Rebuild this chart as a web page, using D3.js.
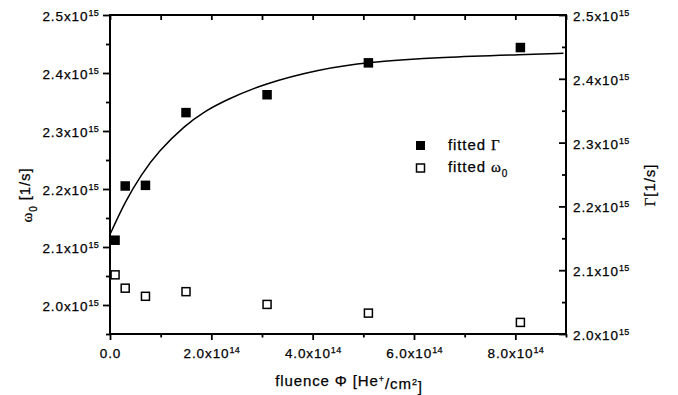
<!DOCTYPE html>
<html>
<head>
<meta charset="utf-8">
<script src="https://cdn.jsdelivr.net/npm/d3@7"></script>
<style>
  html, body { margin: 0; padding: 0; background: #fff; }
  svg { display: block; font-family: "Liberation Sans", Arial, sans-serif; }
  text { stroke: #000; stroke-width: 0.25px; }
</style>
</head>
<body>
<svg id="chart" width="678" height="395"></svg>
<script>
// ---- data (fluence in units of 1e14 He+/cm^2, frequencies in units of 1e15 1/s) ----
const fluence = [0.1, 0.3, 0.7, 1.5, 3.1, 5.1, 8.1];
const gammaFit = [2.147, 2.232, 2.233, 2.347, 2.375, 2.425, 2.449];   // fitted Γ (right axis)
const omegaFit = [2.052, 2.029, 2.015, 2.023, 2.001, 1.986, 1.970];   // fitted ω0 (left axis)
const curveFluence = [0, 0.3, 0.62, 0.95, 1.48, 1.87, 2.27, 3.02, 4.14, 5.06, 6.57, 8.21, 8.95];
const curveGamma   = [2.156, 2.208, 2.250, 2.286, 2.327, 2.349, 2.366, 2.392, 2.415, 2.426, 2.434, 2.438, 2.440];

const xMajor = [0, 2, 4, 6, 8];
const xMajorMant = ["0.0", "2.0x10", "4.0x10", "6.0x10", "8.0x10"];
const xMajorExp = ["", "14", "14", "14", "14"];
const xMinor = [1, 3, 5, 7, 9];
const xTop = [0, 1, 2, 3, 4, 5, 6, 7, 8, 9];

const yLeftMajor = [2.0, 2.1, 2.2, 2.3, 2.4, 2.5];
const yLeftMinor = [1.95, 2.05, 2.15, 2.25, 2.35, 2.45];
const yRightMajor = [2.0, 2.1, 2.2, 2.3, 2.4, 2.5];
const yRightMinor = [2.05, 2.15, 2.25, 2.35, 2.45];
const yMant = ["2.0x10", "2.1x10", "2.2x10", "2.3x10", "2.4x10", "2.5x10"];
const yExp = "15";

// ---- layout ----
const L = 110, R = 566, T = 15, B = 334;
const svg = d3.select("#chart");

const x = d3.scaleLinear().domain([0, 9]).range([L, R]);
const yL = d3.scaleLinear().domain([1.95, 2.5]).range([B, T]);
const yR = d3.scaleLinear().domain([2.0, 2.5]).range([B, T]);

const tickFont = 13.5, tickLS = 0.9;

function supLabels(sel, mant, exp) {
  sel.selectAll("text").each(function(d, i) {
    const t = d3.select(this);
    t.text(null)
     .attr("font-size", tickFont)
     .attr("letter-spacing", tickLS)
     .attr("fill", "#000");
    t.append("tspan").text(mant[i]);
    const e = Array.isArray(exp) ? exp[i] : exp;
    if (e) t.append("tspan").attr("dy", "-0.55em").attr("font-size", 9).attr("letter-spacing", 0.3).text(e);
  });
}

function styleAxis(g) {
  g.select(".domain").remove();
  g.selectAll("line").attr("stroke", "#000").attr("stroke-width", 1.8);
}

// bottom axis
const gB = svg.append("g").attr("transform", `translate(0,${B})`)
  .call(d3.axisBottom(x).tickValues(xMajor).tickSize(6).tickPadding(8).tickFormat((d, i) => xMajorMant[i]));
styleAxis(gB); supLabels(gB, xMajorMant, xMajorExp);
const gBm = svg.append("g").attr("transform", `translate(0,${B})`)
  .call(d3.axisBottom(x).tickValues(xMinor).tickSize(3.5).tickFormat(""));
styleAxis(gBm);

// top axis (inward ticks)
const gT = svg.append("g").attr("transform", `translate(0,${T})`)
  .call(d3.axisTop(x).tickValues(xTop).tickSize(-5).tickFormat(""));
styleAxis(gT);

// left axis
const gL = svg.append("g").attr("transform", `translate(${L},0)`)
  .call(d3.axisLeft(yL).tickValues(yLeftMajor).tickSize(7).tickPadding(4).tickFormat((d, i) => yMant[i]));
styleAxis(gL); supLabels(gL, yMant, yExp);
gL.selectAll("text").attr("dy", "0.4em");
const gLm = svg.append("g").attr("transform", `translate(${L},0)`)
  .call(d3.axisLeft(yL).tickValues(yLeftMinor).tickSize(4).tickFormat(""));
styleAxis(gLm);

// right axis (inward ticks)
const gR = svg.append("g").attr("transform", `translate(${R},0)`)
  .call(d3.axisRight(yR).tickValues(yRightMajor).tickSize(-7).tickPadding(7).tickFormat((d, i) => yMant[i]));
styleAxis(gR); supLabels(gR, yMant, yExp);
gR.selectAll("text").attr("dy", "0.4em");
const gRm = svg.append("g").attr("transform", `translate(${R},0)`)
  .call(d3.axisRight(yR).tickValues(yRightMinor).tickSize(-4).tickFormat(""));
styleAxis(gRm);

// frame
svg.append("rect").attr("x", L).attr("y", T).attr("width", R - L).attr("height", B - T)
  .attr("fill", "none").attr("stroke", "#000").attr("stroke-width", 2);

// fit curve
const line = d3.line().x((d, i) => x(curveFluence[i])).y((d, i) => yR(curveGamma[i])).curve(d3.curveBasis);
svg.append("path").datum(curveGamma).attr("d", line)
  .attr("fill", "none").attr("stroke", "#000").attr("stroke-width", 1.5);

// markers
const s1 = 9.5, s2 = 8;
svg.append("g").selectAll("rect").data(gammaFit).join("rect")
  .attr("x", (d, i) => x(fluence[i]) - s1 / 2).attr("y", d => yR(d) - s1 / 2)
  .attr("width", s1).attr("height", s1).attr("fill", "#000");
svg.append("g").selectAll("rect").data(omegaFit).join("rect")
  .attr("x", (d, i) => x(fluence[i]) - s2 / 2).attr("y", d => yL(d) - s2 / 2)
  .attr("width", s2).attr("height", s2).attr("fill", "#fff").attr("stroke", "#000").attr("stroke-width", 1.5);

// legend
const lg = svg.append("g");
lg.append("rect").attr("x", 416).attr("y", 141).attr("width", 9).attr("height", 9).attr("fill", "#000");
lg.append("rect").attr("x", 416.5).attr("y", 164).attr("width", 8).attr("height", 8)
  .attr("fill", "#fff").attr("stroke", "#000").attr("stroke-width", 1.5);
const t1 = lg.append("text").attr("x", 448).attr("y", 150).attr("font-size", 15).attr("letter-spacing", 0.9);
t1.append("tspan").text("fitted ");
t1.append("tspan").attr("font-family", "'Liberation Serif', serif").text("Γ");
const t2 = lg.append("text").attr("x", 448).attr("y", 172).attr("font-size", 15).attr("letter-spacing", 0.9);
t2.append("tspan").text("fitted ");
t2.append("tspan").attr("font-family", "'Liberation Serif', serif").text("ω");
t2.append("tspan").attr("dy", "0.45em").attr("font-size", 10).text("0");

// axis titles
const xt = svg.append("text").attr("x", 349).attr("y", 386).attr("text-anchor", "middle")
  .attr("font-size", 15).attr("letter-spacing", 0.9);
xt.append("tspan").text("fluence Φ [He");
xt.append("tspan").attr("dy", "-0.5em").attr("font-size", 9).text("+");
xt.append("tspan").attr("dy", "0.5em").text("/cm");
xt.append("tspan").attr("dy", "-0.5em").attr("font-size", 9).text("2");
xt.append("tspan").attr("dy", "0.5em").text("]");

const yt = svg.append("text").attr("transform", "translate(32,195) rotate(-90)")
  .attr("text-anchor", "middle").attr("font-size", 15).attr("letter-spacing", 0.9);
yt.append("tspan").attr("font-family", "'Liberation Serif', serif").text("ω");
yt.append("tspan").attr("dy", "0.45em").attr("font-size", 10).text("0");
yt.append("tspan").attr("dy", "-0.45em").text(" [1/s]");

const yt2 = svg.append("text").attr("transform", "translate(655,185) rotate(-90)")
  .attr("text-anchor", "middle").attr("font-size", 15).attr("letter-spacing", 0.9);
yt2.append("tspan").attr("font-family", "'Liberation Serif', serif").text("Γ");
yt2.append("tspan").text("[1/s]");
</script>
</body>
</html>
